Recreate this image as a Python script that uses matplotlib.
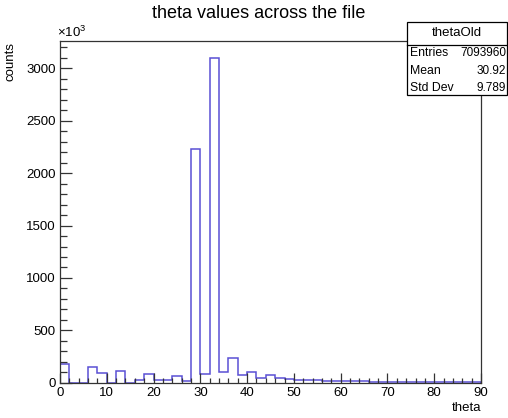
import numpy as np
import matplotlib
matplotlib.use('Agg')
from matplotlib import pyplot as plt
from matplotlib.ticker import MultipleLocator

plt.rcParams['font.family'] = ['Liberation Sans', 'DejaVu Sans']
plt.rcParams['mathtext.fontset'] = 'custom'
plt.rcParams['mathtext.rm'] = 'Liberation Sans'

# bin edges 0..90 in steps of 2, counts in units of 1e3
bin_edges = np.arange(0, 92, 2)
counts_k = [178, 0, 0, 153, 96, 0, 115, 0, 25, 86,
            25, 25, 67, 13, 2232, 83, 3104, 105, 239, 76,
            102, 45, 70, 45, 35, 30, 30, 28, 18, 16,
            15, 14, 12, 11, 10, 9, 8, 7, 6, 5,
            5, 4, 3, 3, 2]

title = 'theta values across the file'
hist_name = 'thetaOld'
stats = [('Entries', '7093960'), ('Mean', '30.92'), ('Std Dev', '9.789')]

fig = plt.figure(figsize=(5.08, 4.18), dpi=100)
W, H = 508.0, 418.0
ax = fig.add_axes([60 / W, 1 - 382.7 / H, (481 - 60) / W, (382.7 - 41) / H])

ax.stairs(counts_k, bin_edges, color='#5a50d4', lw=1.1)

ax.set_xlim(0, 90)
ax.set_ylim(0, 3262)
ax.xaxis.set_major_locator(MultipleLocator(10))
ax.xaxis.set_minor_locator(MultipleLocator(2))
ax.yaxis.set_major_locator(MultipleLocator(500))
ax.yaxis.set_minor_locator(MultipleLocator(100))
ax.tick_params(which='both', direction='in', top=False, right=False,
               color='#333333', width=0.9, labelsize=9.5)
ax.tick_params(axis='y', which='major', length=8.5, pad=3)
ax.tick_params(axis='y', which='minor', length=4.8)
ax.tick_params(axis='x', which='major', length=7.2, pad=3)
ax.tick_params(axis='x', which='minor', length=3.6)
for s in ax.spines.values():
    s.set_color('#333333')
    s.set_linewidth(0.9)

fig.text(259 / W, 1 - 13 / H, title, ha='center', va='center', fontsize=13)
fig.text(11 / W, 1 - 42 / H, 'counts', rotation=90, ha='center', va='top', fontsize=9.5)
fig.text(481 / W, 1 - 408 / H, 'theta', ha='right', va='center', fontsize=9.5)
fig.text(57 / W, 1 - 40 / H, r'$\times10^{3}$', ha='left', va='bottom', fontsize=9.5)

# stats box
bx0, bx1, by0, by1, byh = 406.5, 507, 22, 95, 45
box = plt.Rectangle((bx0 / W, 1 - by1 / H), (bx1 - bx0) / W, (by1 - by0) / H,
                    transform=fig.transFigure, facecolor='white',
                    edgecolor='black', lw=0.9, zorder=5)
fig.add_artist(box)
fig.add_artist(plt.Line2D([bx0 / W, bx1 / W], [1 - byh / H, 1 - byh / H],
                          transform=fig.transFigure, color='black', lw=0.9, zorder=6))
fig.text((bx0 + bx1) / 2 / W, 1 - 33.5 / H, hist_name, ha='center', va='center',
         fontsize=9.5, zorder=7)
for i, (k, v) in enumerate(stats):
    yy = 1 - (53 + i * 17.5) / H
    fig.text(410 / W, yy, k, ha='left', va='center', fontsize=8.8, zorder=7)
    fig.text(506 / W, yy, v, ha='right', va='center', fontsize=8.5, zorder=7)

fig.savefig('out.png', dpi=100)
